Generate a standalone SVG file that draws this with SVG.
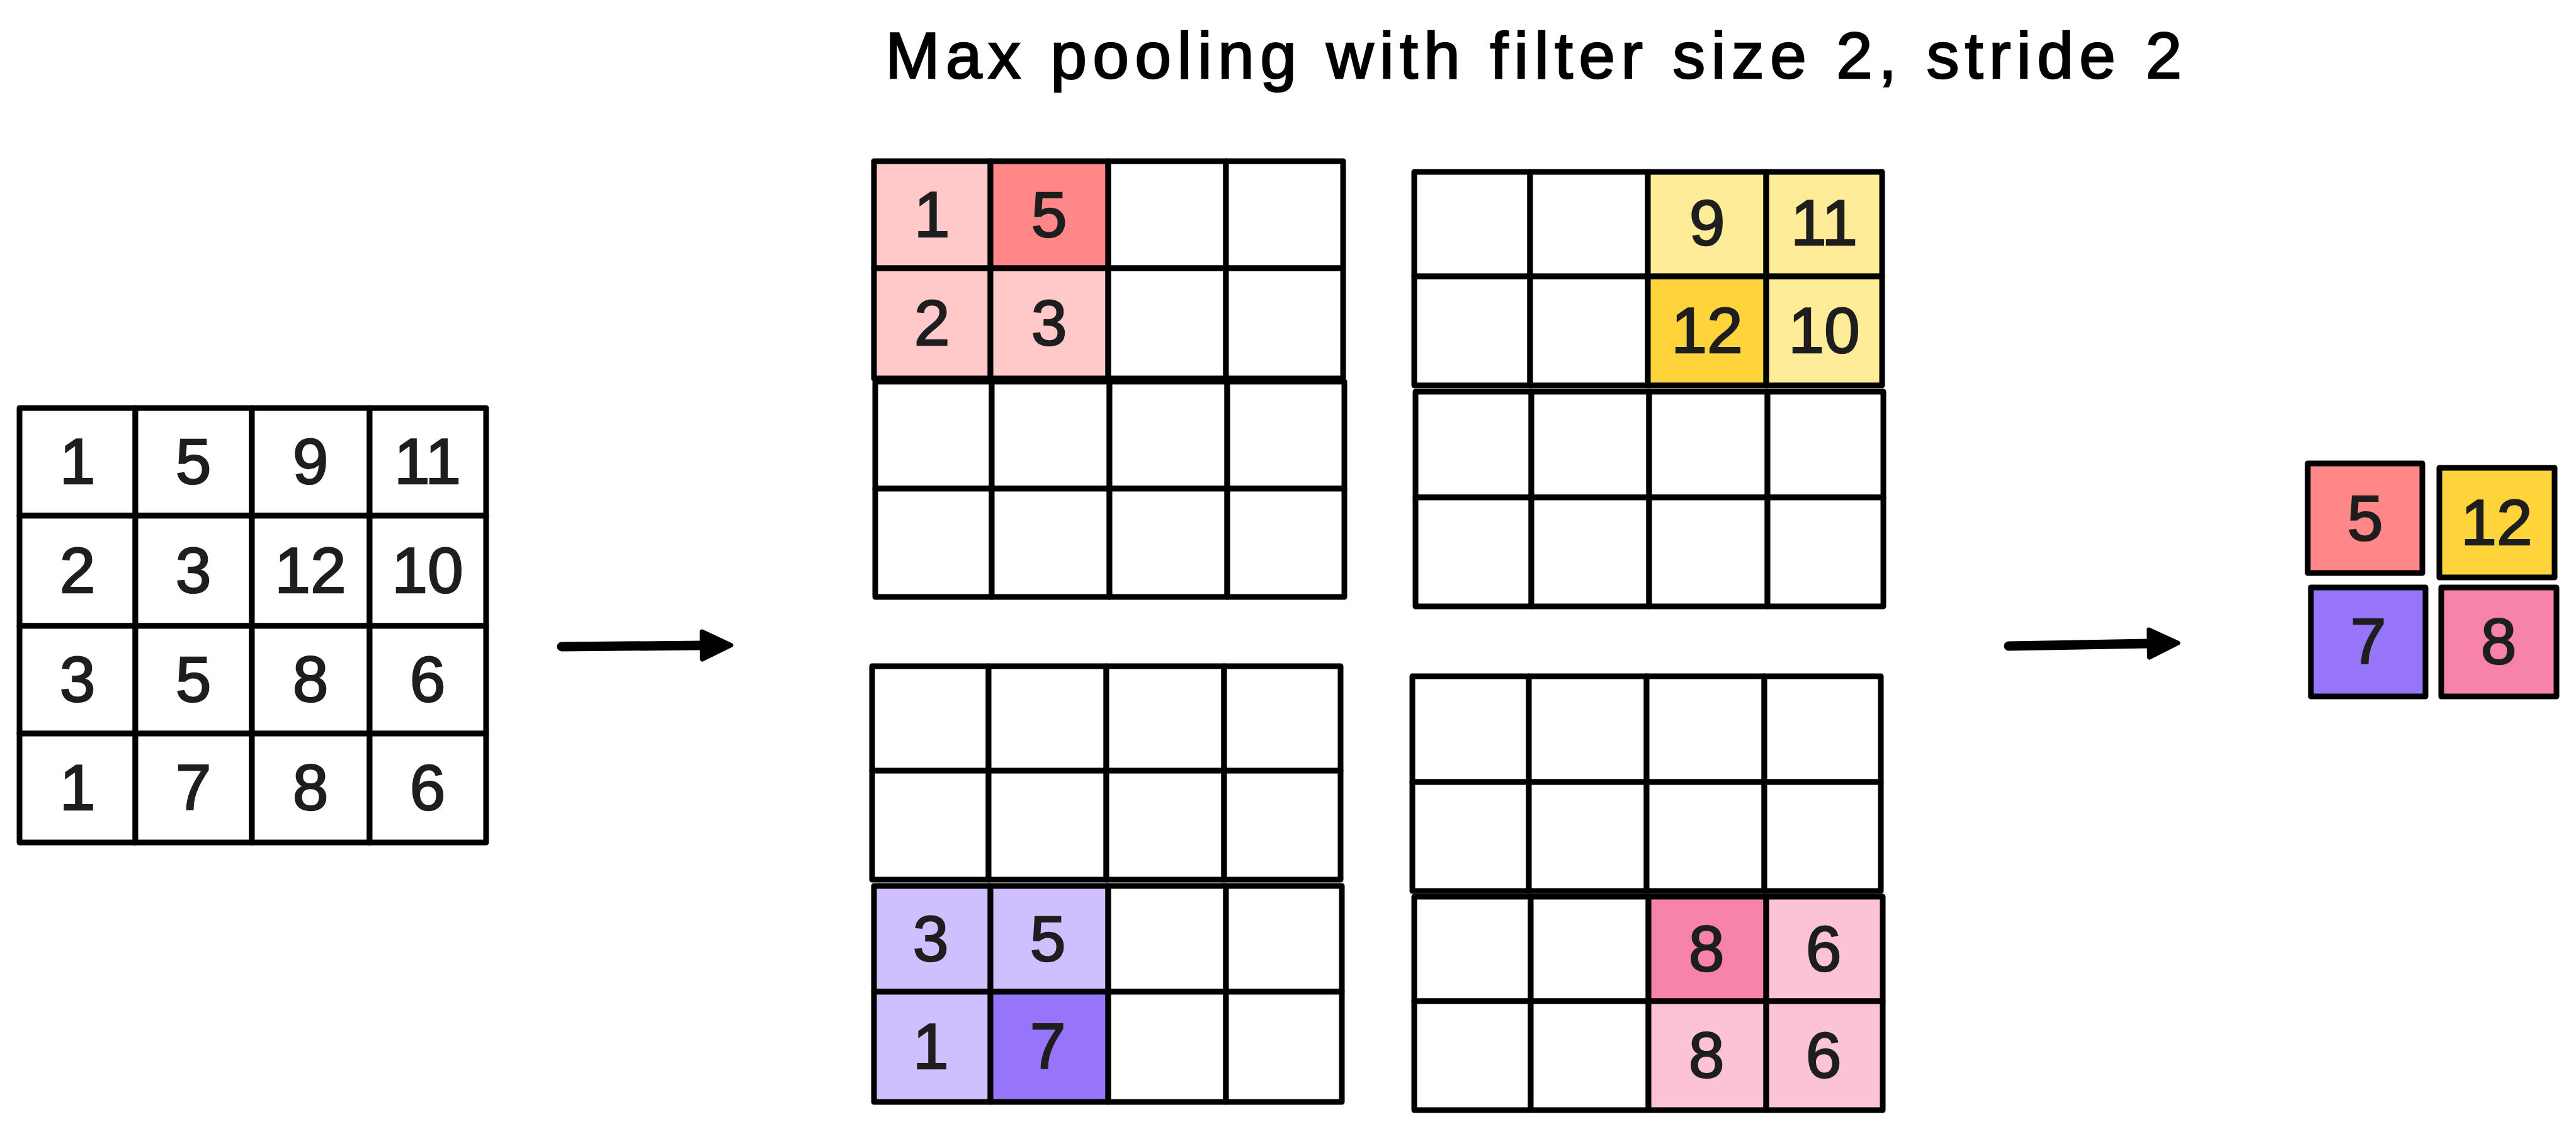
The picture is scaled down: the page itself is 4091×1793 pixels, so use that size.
<svg xmlns="http://www.w3.org/2000/svg" width="4091" height="1793" viewBox="0 0 4091 1793">
<style>
.c{fill:#ffffff;stroke:#000;stroke-width:9;stroke-linejoin:round}
.o{stroke:#000;stroke-width:9;stroke-linejoin:round}
.t{font-family:"Liberation Sans",Arial,sans-serif;font-size:102px;fill:#1e1e1e;stroke:#1e1e1e;stroke-width:2.5;text-anchor:middle}
.title{font-family:"Liberation Sans",Arial,sans-serif;font-size:104px;fill:#000;stroke:#000;stroke-width:2.5}
.lp{fill:#ffc9c9}.dp{fill:#ff8787}.ly{fill:#ffec99}.dy{fill:#ffd43b}.lv{fill:#d0bfff}.dv{fill:#9775fa}.lk{fill:#fcc2d7}.dk{fill:#f783ac}
.arr{fill:none;stroke:#000;stroke-width:15;stroke-linecap:round}
</style>
<defs>
<marker id="ah" markerUnits="userSpaceOnUse" viewBox="0 0 56 54" markerWidth="56" markerHeight="54" refX="5" refY="27" orient="auto">
<path d="M5,5 L51,27 L5,49 Z" fill="#000" stroke="#000" stroke-width="7" stroke-linejoin="round"/>
</marker>
</defs>
<rect width="4091" height="1793" fill="#ffffff"/>

<g id="title">
<text class="title" x="1406" y="124" textLength="2059">Max pooling with filter size 2, stride 2</text>
</g>

<g id="input-grid">
<rect class="c" x="31" y="648" width="184" height="171"/>
<rect class="c" x="215" y="648" width="185" height="171"/>
<rect class="c" x="400" y="648" width="187" height="171"/>
<rect class="c" x="587" y="648" width="185" height="171"/>
<rect class="c" x="31" y="819" width="184" height="175"/>
<rect class="c" x="215" y="819" width="185" height="175"/>
<rect class="c" x="400" y="819" width="187" height="175"/>
<rect class="c" x="587" y="819" width="185" height="175"/>
<rect class="c" x="31" y="994" width="184" height="171"/>
<rect class="c" x="215" y="994" width="185" height="171"/>
<rect class="c" x="400" y="994" width="187" height="171"/>
<rect class="c" x="587" y="994" width="185" height="171"/>
<rect class="c" x="31" y="1165" width="184" height="173"/>
<rect class="c" x="215" y="1165" width="185" height="173"/>
<rect class="c" x="400" y="1165" width="187" height="173"/>
<rect class="c" x="587" y="1165" width="185" height="173"/>
<text class="t" x="123" y="768">1</text><text class="t" x="307" y="768">5</text><text class="t" x="493" y="768">9</text><text class="t" x="679" y="768">11</text>
<text class="t" x="123" y="941">2</text><text class="t" x="307" y="941">3</text><text class="t" x="493" y="941">12</text><text class="t" x="679" y="941">10</text>
<text class="t" x="123" y="1114">3</text><text class="t" x="307" y="1114">5</text><text class="t" x="493" y="1114">8</text><text class="t" x="679" y="1114">6</text>
<text class="t" x="123" y="1286">1</text><text class="t" x="307" y="1286">7</text><text class="t" x="493" y="1286">8</text><text class="t" x="679" y="1286">6</text>
</g>

<g id="window-top-left">
<rect class="c lp" x="1388" y="256" width="185" height="170"/>
<rect class="c dp" x="1573" y="256" width="187" height="170"/>
<rect class="c" x="1760" y="256" width="187" height="170"/>
<rect class="c" x="1947" y="256" width="186" height="170"/>
<rect class="c lp" x="1388" y="426" width="185" height="175"/>
<rect class="c lp" x="1573" y="426" width="187" height="175"/>
<rect class="c" x="1760" y="426" width="187" height="175"/>
<rect class="c" x="1947" y="426" width="186" height="175"/>
<rect class="c" x="1390" y="606" width="185" height="170"/>
<rect class="c" x="1575" y="606" width="187" height="170"/>
<rect class="c" x="1762" y="606" width="187" height="170"/>
<rect class="c" x="1949" y="606" width="186" height="170"/>
<rect class="c" x="1390" y="776" width="185" height="172"/>
<rect class="c" x="1575" y="776" width="187" height="172"/>
<rect class="c" x="1762" y="776" width="187" height="172"/>
<rect class="c" x="1949" y="776" width="186" height="172"/>
<text class="t" x="1480" y="376">1</text><text class="t" x="1666" y="376">5</text>
<text class="t" x="1480" y="548">2</text><text class="t" x="1666" y="548">3</text>
</g>

<g id="window-top-right">
<rect class="c" x="2246" y="273" width="184" height="166"/>
<rect class="c" x="2430" y="273" width="187" height="166"/>
<rect class="c ly" x="2617" y="273" width="188" height="166"/>
<rect class="c ly" x="2805" y="273" width="184" height="166"/>
<rect class="c" x="2246" y="439" width="184" height="173"/>
<rect class="c" x="2430" y="439" width="187" height="173"/>
<rect class="c dy" x="2617" y="439" width="188" height="173"/>
<rect class="c ly" x="2805" y="439" width="184" height="173"/>
<rect class="c" x="2248" y="622" width="184" height="168"/>
<rect class="c" x="2432" y="622" width="187" height="168"/>
<rect class="c" x="2619" y="622" width="188" height="168"/>
<rect class="c" x="2807" y="622" width="184" height="168"/>
<rect class="c" x="2248" y="790" width="184" height="173"/>
<rect class="c" x="2432" y="790" width="187" height="173"/>
<rect class="c" x="2619" y="790" width="188" height="173"/>
<rect class="c" x="2807" y="790" width="184" height="173"/>
<text class="t" x="2711" y="389">9</text><text class="t" x="2897" y="389">11</text>
<text class="t" x="2711" y="560">12</text><text class="t" x="2897" y="560">10</text>
</g>

<g id="window-bottom-left">
<rect class="c" x="1385" y="1058" width="185" height="166"/>
<rect class="c" x="1570" y="1058" width="187" height="166"/>
<rect class="c" x="1757" y="1058" width="187" height="166"/>
<rect class="c" x="1944" y="1058" width="185" height="166"/>
<rect class="c" x="1385" y="1224" width="185" height="173"/>
<rect class="c" x="1570" y="1224" width="187" height="173"/>
<rect class="c" x="1757" y="1224" width="187" height="173"/>
<rect class="c" x="1944" y="1224" width="185" height="173"/>
<rect class="c lv" x="1388" y="1407" width="185" height="168"/>
<rect class="c lv" x="1573" y="1407" width="187" height="168"/>
<rect class="c" x="1760" y="1407" width="187" height="168"/>
<rect class="c" x="1947" y="1407" width="184" height="168"/>
<rect class="c lv" x="1388" y="1575" width="185" height="175"/>
<rect class="c dv" x="1573" y="1575" width="187" height="175"/>
<rect class="c" x="1760" y="1575" width="187" height="175"/>
<rect class="c" x="1947" y="1575" width="184" height="175"/>
<text class="t" x="1478" y="1526">3</text><text class="t" x="1664" y="1526">5</text>
<text class="t" x="1478" y="1697">1</text><text class="t" x="1664" y="1697">7</text>
</g>

<g id="window-bottom-right">
<rect class="c" x="2243" y="1074" width="185" height="168"/>
<rect class="c" x="2428" y="1074" width="187" height="168"/>
<rect class="c" x="2615" y="1074" width="187" height="168"/>
<rect class="c" x="2802" y="1074" width="185" height="168"/>
<rect class="c" x="2243" y="1242" width="185" height="173"/>
<rect class="c" x="2428" y="1242" width="187" height="173"/>
<rect class="c" x="2615" y="1242" width="187" height="173"/>
<rect class="c" x="2802" y="1242" width="185" height="173"/>
<rect class="c" x="2246" y="1424" width="185" height="166"/>
<rect class="c" x="2431" y="1424" width="187" height="166"/>
<rect class="c dk" x="2618" y="1424" width="187" height="166"/>
<rect class="c lk" x="2805" y="1424" width="185" height="166"/>
<rect class="c" x="2246" y="1590" width="185" height="173"/>
<rect class="c" x="2431" y="1590" width="187" height="173"/>
<rect class="c lk" x="2618" y="1590" width="187" height="173"/>
<rect class="c lk" x="2805" y="1590" width="185" height="173"/>
<text class="t" x="2710" y="1542">8</text><text class="t" x="2896" y="1542">6</text>
<text class="t" x="2710" y="1711">8</text><text class="t" x="2896" y="1711">6</text>
</g>

<g id="output-grid">
<g id="out-5"><rect class="o dp" x="3665" y="736" width="182" height="174"/><text class="t" x="3756" y="858">5</text></g>
<g id="out-12"><rect class="o dy" x="3874" y="743" width="183" height="174"/><text class="t" x="3965" y="865">12</text></g>
<g id="out-7"><rect class="o dv" x="3670" y="933" width="182" height="173"/><text class="t" x="3761" y="1054">7</text></g>
<g id="out-8"><rect class="o dk" x="3877" y="933" width="183" height="173"/><text class="t" x="3968" y="1054">8</text></g>
</g>

<g id="connectors">
<path class="arr" d="M892,1027 L1115,1025" marker-end="url(#ah)"/>
<path class="arr" d="M3190,1026 L3413,1022" marker-end="url(#ah)"/>
</g>
</svg>
